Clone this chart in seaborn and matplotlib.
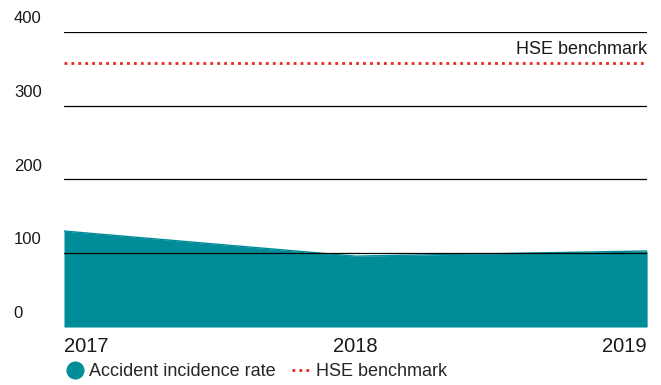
import matplotlib
matplotlib.use("Agg")
import matplotlib.pyplot as plt
from matplotlib.lines import Line2D
import seaborn as sns
import pandas as pd

years = ["2017", "2018", "2019"]
incidence_rate = [130, 96, 103]
hse_benchmark = 357
y_ticks = [0, 100, 200, 300, 400]

teal = "#008c99"
red = "#e8261c"

sns.set_style("white")
plt.rcParams["font.family"] = ["Liberation Sans", "DejaVu Sans"]

df = pd.DataFrame({"x": range(len(years)), "rate": incidence_rate})

fig = plt.figure(figsize=(6.61, 3.85), dpi=100)
ax = fig.add_axes([0.0968, 0.1506, 0.8822, 0.7671])

ax.fill_between(df["x"], 0, df["rate"], color=teal, linewidth=0, zorder=1)
sns.lineplot(data=df, x="x", y="rate", color=teal, linewidth=1, ax=ax, zorder=2)

for v in y_ticks[1:]:
    ax.axhline(v, color="black", linewidth=0.9, zorder=3)
ax.axhline(hse_benchmark, color=red, linewidth=2, linestyle=(0, (1, 1.5)), zorder=3)
ax.text(1.0, hse_benchmark + 8, "HSE benchmark", transform=ax.get_yaxis_transform(),
        ha="right", va="bottom", fontsize=13, color="#1a1a1a")

ax.set_xlim(0, len(years) - 1)
ax.set_ylim(0, 400)
ax.set_xticks([])
ax.set_yticks([])
ax.set_xlabel("")
ax.set_ylabel("")
for s in ax.spines.values():
    s.set_visible(False)

# y labels sit above their gridlines
for v in y_ticks:
    ax.text(-0.086, v + 18, str(v), transform=ax.get_yaxis_transform(),
            ha="left", va="center", fontsize=12, color="#1a1a1a")

# year labels
aligns = ["left", "center", "right"]
for i, (yr, ha) in enumerate(zip(years, aligns)):
    ax.text(i, -13, yr, transform=ax.transData, ha=ha, va="top",
            fontsize=14.5, color="#1a1a1a", clip_on=False)

handles = [
    Line2D([], [], marker="o", color=teal, linestyle="none", markersize=12),
    Line2D([], [], color=red, linewidth=2, linestyle=(0, (1, 1.5))),
]
fig.legend(handles, ["Accident incidence rate", "HSE benchmark"],
           loc="lower left", bbox_to_anchor=(0.075, -0.03), ncol=2, frameon=False,
           fontsize=13, handlelength=1.0, handletextpad=0.3, columnspacing=0.9)

fig.savefig("out.png", dpi=100)
